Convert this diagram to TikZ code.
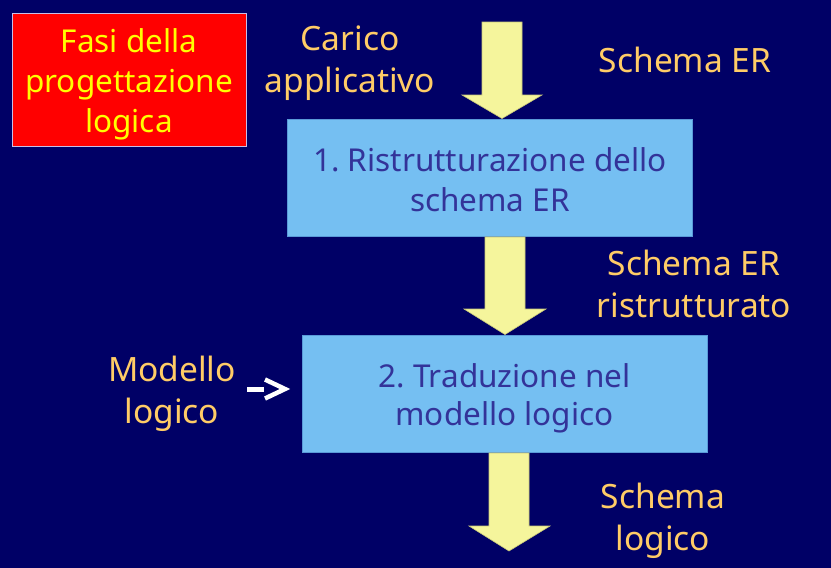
\documentclass[tikz,border=0pt]{standalone}
\usepackage{fontspec}
\setmainfont{Noto Sans}
\frenchspacing
\begin{document}
\begin{tikzpicture}[x=1pt,y=-1pt,
  every node/.style={inner sep=0pt, align=center,
    font=\fontsize{31.5}{40}\selectfont},
  label text/.style={text=labelorange, font=\fontsize{33.5}{42}\selectfont},
  stepbox/.style={draw=boxedge, line width=1pt, fill=boxblue,
    minimum width=405pt, minimum height=117pt},
  step text/.style={text=boxtext},
  blockarrow/.style={fill=arrowyellow, draw=arrowedge, line width=0.6pt},
  into arrow/.style={draw=white, line width=5pt}]
\definecolor{navy}{HTML}{000066}
\definecolor{labelorange}{HTML}{FFCC66}
\definecolor{boxblue}{HTML}{75BFF2}
\definecolor{boxedge}{HTML}{5A9AD8}
\definecolor{boxtext}{HTML}{333399}
\definecolor{arrowyellow}{HTML}{F5F59C}
\definecolor{arrowedge}{HTML}{C8C878}
\definecolor{titlered}{HTML}{FF0000}
\definecolor{titleyellow}{HTML}{FFFF00}

% background
\fill[navy] (0,0) rectangle (831,568);
\useasboundingbox (0,0) rectangle (831,568);

% title box
\node[draw={rgb,255:red,200;green,190;blue,230}, line width=1pt, fill=titlered,
  minimum width=234pt, minimum height=133pt] (title) at (129,79.5) {};
\node[text=titleyellow] (titletext) at ([yshift=-5pt]title.center)
  {Fasi della\\progettazione\\logica};

% process boxes
\node[stepbox] (s1) at (490,177.5) {};
\node[step text] (s1t) at ([yshift=-2pt]s1.center) {1. Ristrutturazione dello\\schema ER};
\node[stepbox] (s2) at (504.5,393.5) {};
\node[step text, font=\fontsize{31.5}{38}\selectfont] (s2t) at ([yshift=-5pt]s2.center)
  {2. Traduzione nel\\modello logico};

% block arrows
\draw[blockarrow] (482,22) -- (522,22) -- (522,95) -- (542,95)
  -- (s1.north -| 502,0) -- (462,95) -- (482,95) -- cycle;
\draw[blockarrow] (485,237) -- (525,237) -- (525,309) -- (546,309)
  -- (s2.north -| 505,0) -- (464,309) -- (485,309) -- cycle;
\draw[blockarrow] (489,453) -- (529,453) -- (529,526) -- (550,526)
  -- (509,551) -- (469,526) -- (489,526) -- cycle;

% labels
\node[label text] (carico) at (350,63) {Carico\\applicativo};
\node[label text] (er) at (685,60) {Schema ER};
\node[label text] (err) at (694,284) {Schema ER\\ristrutturato};
\node[label text] (modello) at (172,394) {Modello\\logico};
\node[label text] (slog) at (663,521) {Schema\\logico};

% small white arrow pointing into the second step
\coordinate (dashstart) at (247,389);
\coordinate (dashend) at (264,389);
\coordinate (chevtip) at (285,389);
\draw[into arrow] (dashstart) -- (dashend);
\draw[into arrow, line width=4.5pt, line join=miter]
  (265,379.5) -- (chevtip) -- (265,398.5);
\end{tikzpicture}
\end{document}
